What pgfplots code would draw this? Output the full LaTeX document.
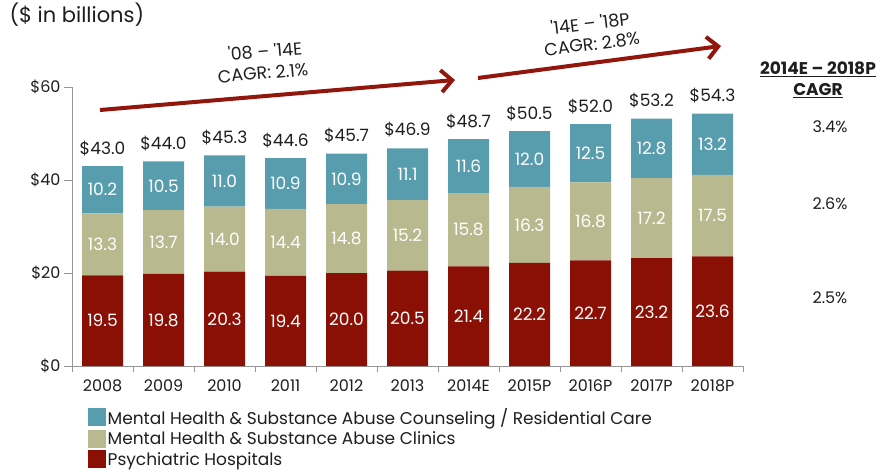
\documentclass[border=0pt]{standalone}
\usepackage{pgfplots}
\pgfplotsset{compat=1.18}
\usepackage{pgfplotstable}
\usetikzlibrary{arrows.meta}
\usepackage{fontspec}
\setmainfont{Poppins}
\definecolor{cred}{RGB}{138,16,6}
\definecolor{ckhaki}{RGB}{184,185,142}
\definecolor{cteal}{RGB}{87,157,173}
\definecolor{caxis}{RGB}{150,150,150}
\definecolor{ctext}{RGB}{30,30,30}
\definecolor{carrow}{RGB}{145,22,12}

\pgfplotstableread{
x hosp clin coun tot
0 19.5 13.3 10.2 43.0
1 19.8 13.7 10.5 44.0
2 20.3 14.0 11.0 45.3
3 19.4 14.4 10.9 44.6
4 20.0 14.8 10.9 45.7
5 20.5 15.2 11.1 46.9
6 21.4 15.8 11.6 48.7
7 22.2 16.3 12.0 50.5
8 22.7 16.8 12.5 52.0
9 23.2 17.2 12.8 53.2
10 23.6 17.5 13.2 54.3
}\data

\newcommand{\fs}{\fontsize{16bp}{19bp}\selectfont}
\newcommand{\fl}{\fontsize{17bp}{20bp}\selectfont}

\begin{document}
\begin{tikzpicture}
\path[use as bounding box] (0,0) rectangle (886bp,-472bp);
\begin{axis}[
  at={(72bp,-366bp)}, anchor=south west, scale only axis,
  width=671bp, height=279bp,
  ybar stacked, bar width=41bp,
  xmin=-0.5, xmax=10.5, ymin=0, ymax=60,
  axis lines=left, axis line style={-, draw=caxis, line width=0.8pt},
  xtick={0,...,10},
  xticklabels={2008,2009,2010,2011,2012,2013,2014E,2015P,2016P,2017P,2018P},
  xtick style={draw=none},
  extra x ticks={-0.5,0.5,...,10.5}, extra x tick labels={},
  extra x tick style={xtick style={draw=caxis, line width=0.8pt}, major tick length=6bp},
  ytick={0,20,40,60},
  yticklabel={\$\pgfmathprintnumber{\tick}},
  /pgf/number format/assume math mode=true,
  ytick style={draw=caxis, line width=0.8pt},
  tick align=outside, major tick length=8bp,
  ticklabel style={font=\fs, text=ctext},
  xticklabel style={yshift=-2bp},
  clip=false,
  legend style={at={(axis description cs:0.0238,-0.146)}, anchor=north west, draw=none, fill=none,
    font=\fl, row sep=2.5bp, inner sep=0pt, nodes={inner sep=1.5bp, text=ctext},
    /tikz/every even column/.append style={column sep=3bp}},
  legend cell align=left, reverse legend,
  legend image code/.code={\fill[#1] (0bp,-9bp) rectangle (18bp,9bp);},
  seg/.style={draw=none, nodes near coords,
    point meta=explicit symbolic,
    every node near coord/.style={anchor=center, text=white, font=\fl}},
]
\addplot[seg, fill=cred] table[x=x, y=hosp, meta=hosp] {\data};
\addlegendentry{Psychiatric Hospitals}
\addplot[seg, fill=ckhaki] table[x=x, y=clin, meta=clin] {\data};
\addlegendentry{Mental Health \& Substance Abuse Clinics}
\addplot[seg, fill=cteal] table[x=x, y=coun, meta=coun] {\data};
\addlegendentry{Mental Health \& Substance Abuse Counseling / Residential Care}
\end{axis}
\begin{axis}[
  at={(72bp,-366bp)}, anchor=south west, scale only axis,
  width=671bp, height=279bp,
  xmin=-0.5, xmax=10.5, ymin=0, ymax=60,
  hide axis, clip=false,
]
\addplot[draw=none, mark=none, nodes near coords={\$\pgfplotspointmeta}, point meta=explicit symbolic,
  every node near coord/.style={anchor=south, yshift=7bp, text=ctext, font=\fl}]
  table[x=x, y=tot, meta=tot] {\data};
\end{axis}
\draw[carrow, line width=4bp, -{Straight Barb[length=11bp, width=22bp]}] (100bp,-110bp) -- (455bp,-80bp);
\draw[carrow, line width=4bp, -{Straight Barb[length=11bp, width=22bp]}] (478bp,-78bp) -- (721bp,-46bp);
\node[rotate=4.8, font=\fontsize{17.5bp}{22bp}\selectfont, text=ctext] at (265bp,-51bp)
  {\textquotesingle08 -- \textquotesingle14E};
\node[rotate=4.8, font=\fontsize{17.5bp}{22bp}\selectfont, text=ctext] at (263bp,-73bp)
  {CAGR: 2.1\%};
\node[rotate=7, font=\fontsize{17.5bp}{22bp}\selectfont, text=ctext] at (590bp,-23bp)
  {\textquotesingle14E -- \textquotesingle18P};
\node[rotate=7, font=\fontsize{17.5bp}{22bp}\selectfont, text=ctext] at (592bp,-44bp)
  {CAGR: 2.8\%};
\node[anchor=west, font=\fontsize{21bp}{24bp}\selectfont, text=ctext] at (6bp,-15bp) {(\$ in billions)};
\node[font=\fl\bfseries, text=ctext] at (818bp,-69bp) {\underline{2014E -- 2018P}};
\node[font=\fl\bfseries, text=ctext] at (818bp,-91bp) {\underline{CAGR}};
\node[font=\fs, text=ctext] at (830bp,-127bp) {3.4\%};
\node[font=\fs, text=ctext] at (830bp,-204bp) {2.6\%};
\node[font=\fs, text=ctext] at (830bp,-298bp) {2.5\%};
\end{tikzpicture}
\end{document}
